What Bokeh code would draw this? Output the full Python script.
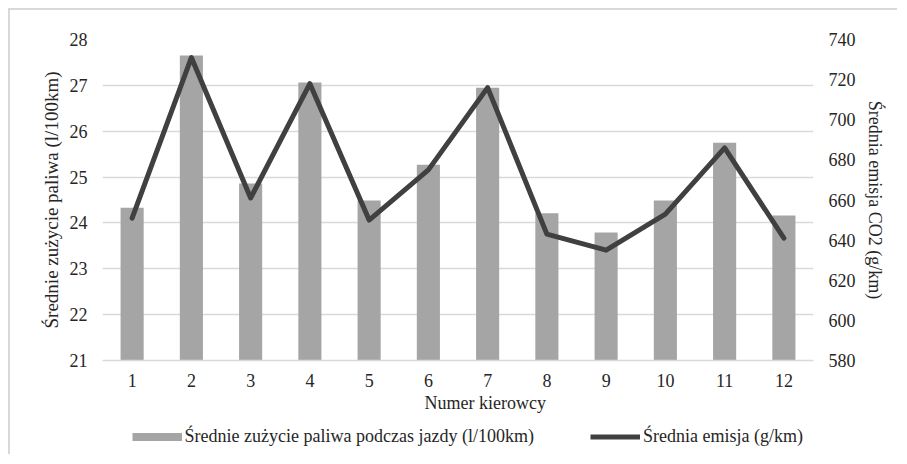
from bokeh.plotting import figure
from bokeh.layouts import column, row
from bokeh.models import Range1d, LinearAxis, Legend, LegendItem, FixedTicker, Label, ColumnDataSource, Spacer
from bokeh.embed import file_html
from bokeh.resources import INLINE

drivers = ["1", "2", "3", "4", "5", "6", "7", "8", "9", "10", "11", "12"]
fuel = [24.33, 27.65, 24.86, 27.06, 24.49, 25.27, 26.95, 24.21, 23.79, 24.49, 25.75, 24.16]
co2 = [651, 731, 661, 718, 650, 675, 716, 643, 635, 653, 686, 641]
fuel_ticks = [21, 22, 23, 24, 25, 26, 27, 28]
co2_ticks = [580, 600, 620, 640, 660, 680, 700, 720, 740]

FONT = "Liberation Serif"
TXT = "#262626"
GRID = "#d9d9d9"
BAR = "#a5a5a5"
LINE = "#404040"

src = ColumnDataSource(dict(x=drivers, fuel=fuel, co2=co2))

p = figure(width=889, height=384, x_range=drivers, y_range=Range1d(fuel_ticks[0], fuel_ticks[-1]),
           output_backend="svg", toolbar_location=None,
           min_border_left=92, min_border_right=86, min_border_top=29, min_border_bottom=34,
           styles={"border-left": "2px solid #d9d9d9", "border-top": "2px solid #d9d9d9"})
p.outline_line_color = None
p.extra_y_ranges = {"co2": Range1d(co2_ticks[0], co2_ticks[-1])}

bars = p.vbar(x="x", top="fuel", bottom=fuel_ticks[0], width=0.39, source=src,
              fill_color=BAR, line_color=None)
line = p.line(x="x", y="co2", source=src, y_range_name="co2",
              line_color=LINE, line_width=5, line_join="round", line_cap="round")

p.xgrid.grid_line_color = None
p.ygrid.grid_line_color = GRID
p.ygrid.grid_line_width = 1.3
p.yaxis.ticker = FixedTicker(ticks=fuel_ticks)

right = LinearAxis(y_range_name="co2", ticker=FixedTicker(ticks=co2_ticks))
p.add_layout(right, "right")

for ax in [p.yaxis[0], right, p.xaxis[0]]:
    ax.major_tick_line_color = None
    ax.minor_tick_line_color = None
    ax.major_tick_out = 0
    ax.major_tick_in = 0
    ax.minor_tick_out = 0
    ax.minor_tick_in = 0
    ax.major_label_text_font = FONT
    ax.major_label_text_font_size = "18px"
    ax.major_label_text_color = TXT
    ax.axis_label_text_font = FONT
    ax.axis_label_text_font_style = "normal"
    ax.axis_label_text_color = TXT

for ax in [p.yaxis[0], right]:
    ax.axis_line_color = None
    ax.major_label_standoff = 15

p.yaxis[0].axis_label = "Średnie zużycie paliwa (l/100km)"
p.yaxis[0].axis_label_text_font_size = "19px"
p.yaxis[0].axis_label_standoff = 5
right.axis_label = "Średnia emisja CO2 (g/km)"
right.axis_label_text_font_size = "18px"
right.axis_label_standoff = 6

xa = p.xaxis[0]
xa.axis_line_color = GRID
xa.axis_line_width = 1.3
xa.major_label_standoff = 13

# strip below the chart: x-axis title and legend (keys use the same data, kept out of view)
q = figure(width=889, height=62, x_range=p.x_range, y_range=Range1d(0, 1),
           x_axis_type=None, y_axis_type=None, output_backend="svg", toolbar_location=None,
           min_border=0, styles={"border-left": "2px solid #d9d9d9"})
q.outline_line_color = None
q.grid.visible = False

key_bar = q.line(x="x", y="fuel", source=src, line_color=BAR, line_width=8, line_cap="butt")
key_line = q.line(x="x", y="co2", source=src, line_color=LINE, line_width=5, line_cap="butt")

q.add_layout(Label(x=6.46, y=0.8226, text="Numer kierowcy", text_font=FONT, text_font_size="18px",
                   text_color=TXT, text_align="center", text_baseline="middle"))

legend = Legend(items=[LegendItem(label="Średnie zużycie paliwa podczas jazdy (l/100km)", renderers=[key_bar]),
                       LegendItem(label="Średnia emisja (g/km)", renderers=[key_line])],
                location=(29.6, 4.5), orientation="horizontal")
legend.border_line_color = None
legend.background_fill_alpha = 0
legend.padding = 0
legend.margin = 0
legend.spacing = 56
legend.glyph_width = 50
legend.glyph_height = 27
legend.label_standoff = 3
legend.label_text_font = FONT
legend.label_text_font_size = "18px"
legend.label_text_color = TXT
q.add_layout(legend, "center")

layout = column(Spacer(height=8), row(Spacer(width=8), column(p, q, spacing=0)), spacing=0)
open("out.html", "w").write(file_html(layout, INLINE))
